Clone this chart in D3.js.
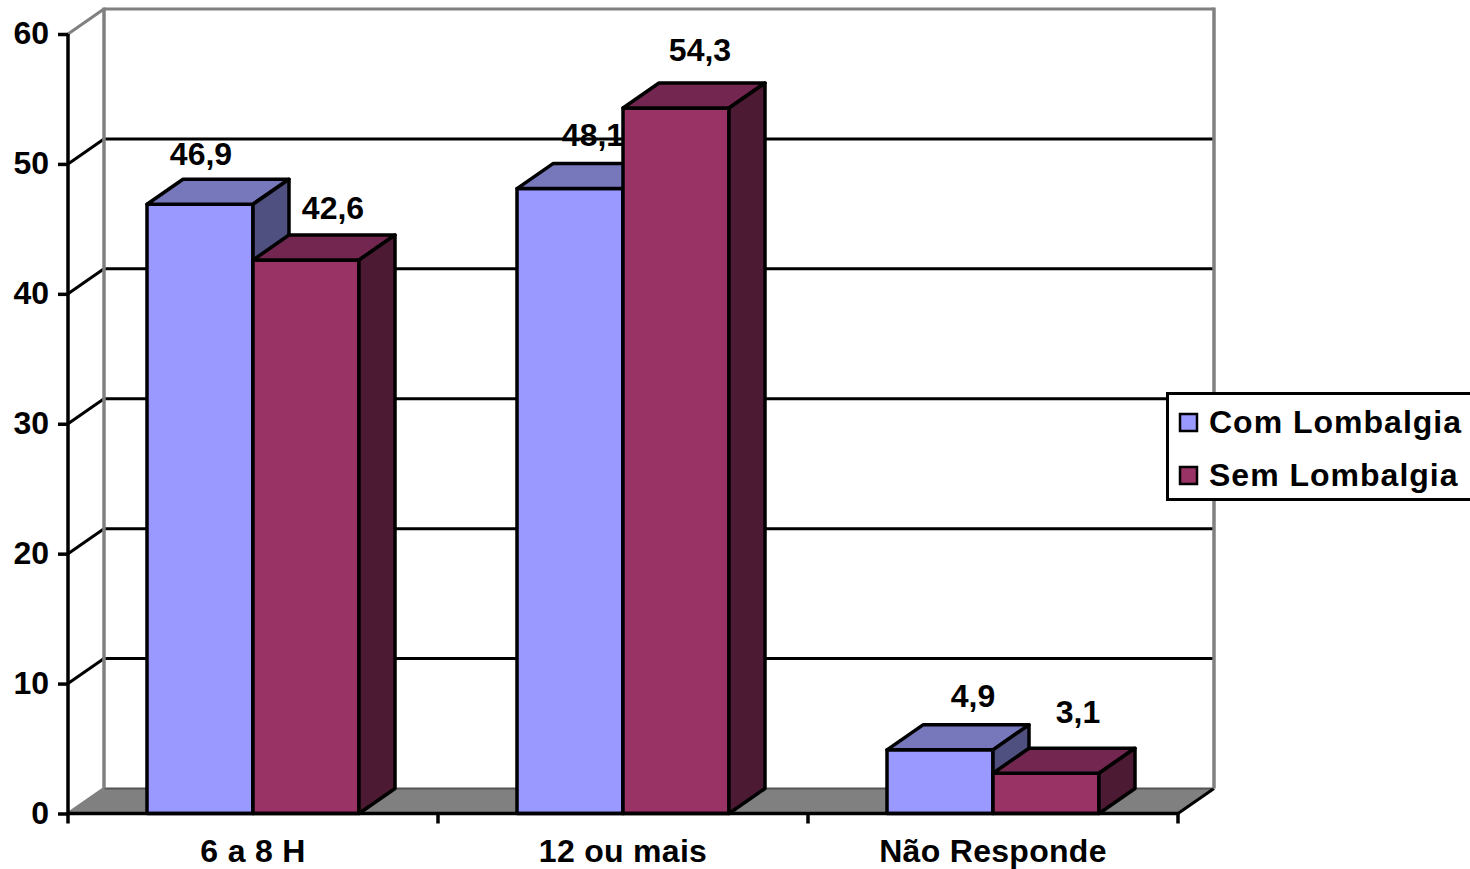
<!DOCTYPE html>
<html>
<head>
<meta charset="utf-8">
<script src="https://cdnjs.cloudflare.com/ajax/libs/d3/7.8.5/d3.min.js"></script>
<style>
html, body { margin: 0; padding: 0; background: #fff; overflow: hidden; }
text { font-family: "Liberation Sans", Arial, sans-serif; font-weight: bold; fill: #000; }
</style>
</head>
<body>
<svg id="chart" width="1470" height="869"></svg>
<script>
var categories = ["6 a 8 H", "12 ou mais", "Não Responde"];
var seriesNames = ["Com Lombalgia", "Sem Lombalgia"];
var comLombalgia = [46.9, 48.1, 4.9];
var semLombalgia = [42.6, 54.3, 3.1];
var valueLabels = [["46,9", "48,1", "4,9"], ["42,6", "54,3", "3,1"]];
var yTicks = [0, 10, 20, 30, 40, 50, 60];

// colours: front, top, side
var seriesColors = [
    ["#9999ff", "#7777bb", "#4f4f80"],
    ["#993366", "#732650", "#4d1a33"]
];

var DEPTH_X = 36, DEPTH_Y = -25;
var LEFT = 68, RIGHT = 1178, BOTTOM = 813.5, TOP = 34;
var GROUP_INSET = 79;
var FONT_SIZE = 32;

// labels do not sit at the same place over each bar in the original
var labelShift = [
    [[1, -14], [23, -18], [33, -18]],
    [[27, -16], [24, -22], [32, -25]]
];

var svg = d3.select("#chart");
var x = d3.scaleBand().domain(categories).range([LEFT, RIGHT]);
var y = d3.scaleLinear().domain([0, 60]).range([BOTTOM, TOP]);
var inner = d3.scaleBand().domain(d3.range(seriesNames.length))
    .range([GROUP_INSET, x.bandwidth() - GROUP_INSET]);

// floor
svg.append("polygon")
    .attr("points", [[LEFT, BOTTOM], [RIGHT, BOTTOM], [RIGHT + DEPTH_X, BOTTOM + DEPTH_Y], [LEFT + DEPTH_X, BOTTOM + DEPTH_Y]].join(" "))
    .attr("fill", "#808080");
svg.append("line")
    .attr("x1", LEFT + DEPTH_X).attr("x2", RIGHT + DEPTH_X)
    .attr("y1", BOTTOM + DEPTH_Y).attr("y2", BOTTOM + DEPTH_Y)
    .attr("stroke", "#555").attr("stroke-width", 2);
svg.append("line")
    .attr("x1", RIGHT).attr("x2", RIGHT + DEPTH_X)
    .attr("y1", BOTTOM).attr("y2", BOTTOM + DEPTH_Y)
    .attr("stroke", "#000").attr("stroke-width", 3);

// gridlines, with the diagonal back to the axis
yTicks.forEach(function(t) {
    var edge = (t === 0 || t === 60);
    var color = edge ? "#808080" : "#000";
    svg.append("line")
        .attr("x1", LEFT).attr("y1", y(t))
        .attr("x2", LEFT + DEPTH_X).attr("y2", y(t) + DEPTH_Y)
        .attr("stroke", color).attr("stroke-width", 3);
    if (t === 0) return;
    svg.append("line")
        .attr("x1", LEFT + DEPTH_X).attr("y1", y(t) + DEPTH_Y)
        .attr("x2", RIGHT + DEPTH_X).attr("y2", y(t) + DEPTH_Y)
        .attr("stroke", color).attr("stroke-width", 3);
});

// back wall sides
[LEFT + DEPTH_X, RIGHT + DEPTH_X].forEach(function(wx) {
    svg.append("line")
        .attr("x1", wx).attr("x2", wx)
        .attr("y1", y(60) + DEPTH_Y - 1.5).attr("y2", BOTTOM + DEPTH_Y)
        .attr("stroke", "#808080").attr("stroke-width", 3.5);
});

// bars, drawn series by series so the later bar covers the earlier label
function drawBar(g, x0, x1, value, colors) {
    var y0 = y(0), y1 = y(value);
    var faces = [
        [[x0, y0], [x1, y0], [x1, y1], [x0, y1]],
        [[x0, y1], [x1, y1], [x1 + DEPTH_X, y1 + DEPTH_Y], [x0 + DEPTH_X, y1 + DEPTH_Y]],
        [[x1, y0], [x1 + DEPTH_X, y0 + DEPTH_Y], [x1 + DEPTH_X, y1 + DEPTH_Y], [x1, y1]]
    ];
    g.selectAll("polygon").data(faces).enter().append("polygon")
        .attr("points", function(d) { return d.join(" "); })
        .attr("fill", function(d, i) { return colors[i]; })
        .attr("stroke", "#000")
        .attr("stroke-width", 3.5)
        .attr("stroke-linejoin", "round");
}

categories.forEach(function(cat, c) {
    [comLombalgia, semLombalgia].forEach(function(values, s) {
        var g = svg.append("g");
        var x0 = x(cat) + inner(s);
        drawBar(g, x0, x0 + inner.bandwidth(), values[c], seriesColors[s]);
        g.append("text")
            .attr("x", x0 + inner.bandwidth() / 2 + labelShift[s][c][0])
            .attr("y", y(values[c]) + DEPTH_Y + labelShift[s][c][1])
            .attr("text-anchor", "middle")
            .attr("font-size", FONT_SIZE)
            .text(valueLabels[s][c]);
    });
});

// axes
var yAxis = svg.append("g")
    .attr("transform", "translate(" + LEFT + ",0)")
    .call(d3.axisLeft(y).tickValues(yTicks).tickSize(10).tickPadding(9).tickFormat(d3.format("d")));
yAxis.selectAll("path.domain").attr("d", "M0," + y(60) + "V" + BOTTOM)
    .attr("stroke", "#000").attr("stroke-width", 3.5);
yAxis.selectAll(".tick line").attr("stroke", "#000").attr("stroke-width", 3.5);
yAxis.selectAll("text").attr("font-family", null).attr("font-size", FONT_SIZE).attr("dy", "0.3em");

var xAxis = svg.append("g")
    .attr("transform", "translate(0," + BOTTOM + ")")
    .call(d3.axisBottom(x).tickSize(0).tickPadding(26));
xAxis.selectAll("path.domain").attr("d", "M" + LEFT + ",0H" + RIGHT)
    .attr("stroke", "#000").attr("stroke-width", 3.5);
xAxis.selectAll("text").attr("font-family", null).attr("font-size", FONT_SIZE).attr("letter-spacing", 0.3);
categories.concat([null]).forEach(function(cat) {
    var tx = cat === null ? RIGHT : x(cat);
    xAxis.append("line")
        .attr("x1", tx).attr("x2", tx).attr("y1", 0).attr("y2", 10)
        .attr("stroke", "#000").attr("stroke-width", 3.5);
});

// legend
var legend = svg.append("g");
legend.append("rect")
    .attr("x", 1167.5).attr("y", 393.5)
    .attr("width", 320).attr("height", 106)
    .attr("fill", "#fff").attr("stroke", "#000").attr("stroke-width", 3);
seriesNames.forEach(function(name, s) {
    var rowY = 414 + s * 53;
    legend.append("rect")
        .attr("x", 1180).attr("y", rowY)
        .attr("width", 17).attr("height", 17)
        .attr("fill", seriesColors[s][0]).attr("stroke", "#000").attr("stroke-width", 2.5);
    legend.append("text")
        .attr("x", 1209).attr("y", rowY + 19)
        .attr("font-size", FONT_SIZE)
        .attr("letter-spacing", 1)
        .text(name);
});
</script>
</body>
</html>
